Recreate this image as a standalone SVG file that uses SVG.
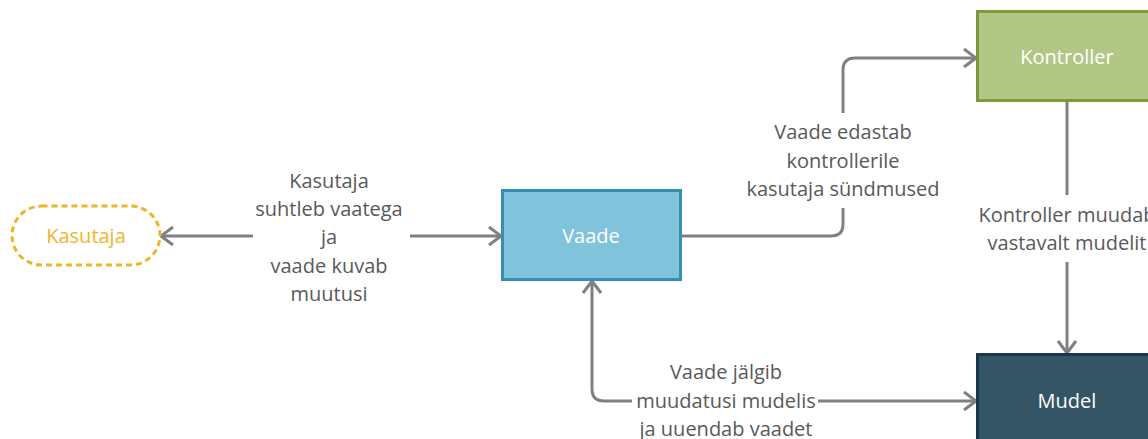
<svg xmlns="http://www.w3.org/2000/svg" width="1148" height="439" viewBox="0 0 1148 439">
<defs>
<style>
.lbl{font-family:"Open Sans","Noto Sans",sans-serif;font-size:20px;fill:#595959;text-anchor:middle}
.nt{font-family:"Open Sans","Noto Sans",sans-serif;font-size:20px;fill:#ffffff;text-anchor:middle}
.c{fill:none;stroke:#808080;stroke-width:3}
</style>
<marker id="ah" viewBox="0 0 14 20" refX="13" refY="10" markerWidth="14" markerHeight="20" markerUnits="userSpaceOnUse" orient="auto-start-reverse">
<path d="M1,1 L13,10 L1,19" fill="none" stroke="#808080" stroke-width="3"/>
</marker>
</defs>
<rect width="1148" height="439" fill="#ffffff"/>
<g id="connectors">
<path class="c" d="M253,236 H161" marker-end="url(#ah)"/>
<path class="c" d="M410,236 H501" marker-end="url(#ah)"/>
<path class="c" d="M681,236 H831 Q843,236 843,224 V208"/>
<path class="c" d="M843,113 V70 Q843,58 855,58 H976" marker-end="url(#ah)"/>
<path class="c" d="M1067,102 V195"/>
<path class="c" d="M1067,262 V353" marker-end="url(#ah)"/>
<path class="c" d="M632,401 H604 Q592,401 592,389 V281" marker-end="url(#ah)"/>
<path class="c" d="M818,401 H976" marker-end="url(#ah)"/>
</g>
<g id="labels">
<text class="lbl" x="329" y="188">Kasutaja</text>
<text class="lbl" x="329" y="216">suhtleb vaatega</text>
<text class="lbl" x="329" y="244">ja</text>
<text class="lbl" x="329" y="273">vaade kuvab</text>
<text class="lbl" x="329" y="301">muutusi</text>
<text class="lbl" x="843" y="139">Vaade edastab</text>
<text class="lbl" x="843" y="168">kontrollerile</text>
<text class="lbl" x="843" y="196">kasutaja sündmused</text>
<text class="lbl" x="1067" y="222">Kontroller muudab</text>
<text class="lbl" x="1067" y="250">vastavalt mudelit</text>
<text class="lbl" x="726" y="379">Vaade jälgib</text>
<text class="lbl" x="726" y="408">muudatusi mudelis</text>
<text class="lbl" x="726" y="436">ja uuendab vaadet</text>
</g>
<g id="kasutaja">
<rect x="12" y="206" width="148" height="59" rx="29.5" fill="#ffffff" stroke="#f0b429" stroke-width="3" stroke-dasharray="6,4"/>
<text x="86" y="243" font-family="Open Sans, Noto Sans, sans-serif" font-size="20" fill="#f0b429" text-anchor="middle">Kasutaja</text>
</g>
<g id="vaade">
<rect x="502.5" y="190.5" width="178" height="89" fill="#82c3dc" stroke="#3390b5" stroke-width="3"/>
<text class="nt" x="591" y="243">Vaade</text>
</g>
<g id="kontroller">
<rect x="977.5" y="11.5" width="180" height="89" fill="#b2c786" stroke="#7a9b3c" stroke-width="3"/>
<text class="nt" x="1067" y="64">Kontroller</text>
</g>
<g id="mudel">
<rect x="977.5" y="354.5" width="180" height="100" fill="#335566" stroke="#17394b" stroke-width="3"/>
<text class="nt" x="1067" y="408">Mudel</text>
</g>
</svg>
